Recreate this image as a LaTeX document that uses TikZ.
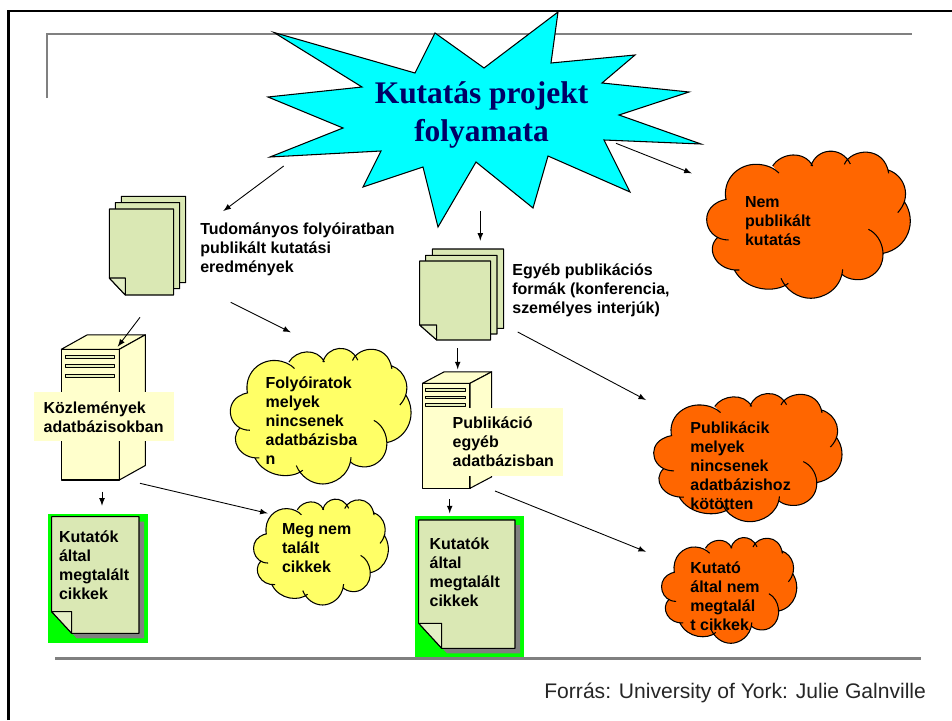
\documentclass[tikz,border=0pt]{standalone}
\usepackage{fontspec}
\setmainfont{Liberation Sans}
\newfontfamily\titlefont{Liberation Serif}
\usetikzlibrary{positioning}
\definecolor{burstcyan}{HTML}{00FFFF}
\definecolor{pagegreen}{HTML}{00FF00}
\definecolor{sheetgreen}{HTML}{DAE8B4}
\definecolor{foldgreen}{HTML}{E4EFC6}
\definecolor{srvyellow}{HTML}{FFFFCC}
\definecolor{cloudyellow}{HTML}{FFFF66}
\definecolor{cloudorange}{HTML}{FF6600}
\definecolor{titleblue}{HTML}{000066}
\definecolor{rulegray}{HTML}{808080}
\tikzset{
	label/.style={anchor=north west, inner sep=0pt, align=left, font=\bfseries\fontsize{9.1}{10.8}\selectfont},
	title/.style={inner sep=0pt, align=center, text=titleblue, font=\titlefont\bfseries\fontsize{17.9}{21.6}\selectfont},
	source/.style={anchor=base west, inner sep=0pt, text=black!85, font=\fontsize{12}{14}\selectfont},
	sheetline/.style={draw=black, line width=0.6pt, fill=sheetgreen, line join=round},
	rule/.style={draw=rulegray, line width=1.7pt},
}
% sheet with a folded corner: left, top, right, bottom, fold x, fold y
\newcommand{\sheet}[6]{
	\draw[sheetline] (#1,#2) -- (#3,#2) -- (#3,#4) -- (#5,#4) -- (#1,#6) -- cycle;
	\draw[sheetline, fill=foldgreen] (#1,#6) -- (#5,#6) -- (#5,#4) -- cycle;
}
% server box: left, top, right, bottom, depth x, depth y
\newcommand{\server}[6]{
	\draw[sheetline, fill=srvyellow] (#1,#2) rectangle (#3,#4);
	\draw[sheetline, fill=srvyellow] (#1,#2) -- ++(#5,-#6) -- ++(#3-#1,0) -- ++(-#5,#6) -- cycle;
	\draw[sheetline, fill=srvyellow] (#3,#2) -- ++(#5,-#6) -- ++(0,#4-#2) -- (#3,#4) -- cycle;
}
\newcommand{\lobes}[1]{
	(750,600) .. controls (738,535) and (790,490) .. (845,493) .. controls (872,494) and (895,505) .. (909,519) #1
	(890,498) .. controls (915,458) and (985,450) .. (1010,498) #1
	(1005,498) .. controls (1020,445) and (1095,435) .. (1123,492) #1
	(1105,493) .. controls (1125,445) and (1225,435) .. (1238,520) #1
	(1236,510) .. controls (1285,525) and (1310,590) .. (1265,638) #1
	(1285,605) .. controls (1325,665) and (1295,745) .. (1222,760) #1
	(1177,688) .. controls (1225,710) and (1240,790) .. (1190,825) .. controls (1160,848) and (1115,840) .. (1098,823) #1
	(1100,808) .. controls (1095,870) and (1040,895) .. (1005,895) .. controls (965,895) and (930,870) .. (915,835) #1
	(937,850) .. controls (900,880) and (810,875) .. (775,810) #1
	(790,810) .. controls (725,815) and (685,750) .. (725,712) #1
	(758,720) .. controls (690,720) and (670,640) .. (720,610) .. controls (730,603) and (742,600) .. (752,598)
}
% cloud: colour, left, top, width, height
\newcommand{\blob}[5]{
	\begin{scope}[shift={(#2,#3)}, xscale=#4/616, yscale=#5/445, shift={(-691,-450)}]
		\fill[#1] \lobes{--} -- cycle;
		\draw[black, line width=0.6pt] \lobes{};
	\end{scope}
}

\begin{document}
\begin{tikzpicture}[x=0.02cm, y=-0.02cm]
	\useasboundingbox (0,0) rectangle (952,720);
	
	% frame and rules
	\draw[black, line width=1.3pt] (8.5,720) -- (8.5,11) -- (952,11);
	\draw[rule] (47,98) -- (47,34) -- (911.7,34);
	\draw[rule] (55,658) -- (921,658);
	
	% burst
	\draw[black, line width=0.6pt, fill=burstcyan, line join=miter] (274,32.5) -- (415,73) -- (435,33) -- (484,68) -- (558,12) -- (551,63) -- (635,55) -- (602,83) -- (689,92) -- (619,115) -- (701,144) -- (604,140) -- (630,192) -- (548,156) -- (533,208) -- (476,162) -- (438,227) -- (423,167) -- (363,187) -- (381,151) -- (270,157) -- (343,128) -- (268,97) -- (362,87) -- cycle;
	\node (title) [title] at (481.5,115) {Kutatás projekt\\folyamata};
	
	% left column
	\sheet{121.3}{196.3}{185.7}{282.7}{137.3}{266}
	\sheet{115.3}{202.7}{179.7}{288.7}{131.3}{272}
	\sheet{109.3}{209}{173.7}{295}{125.3}{278}
	\node (journal) [label] at (200,222) {Tudományos folyóiratban\\publikált kutatási\\eredmények};
	
	\server{61.3}{349.3}{119.3}{480}{26}{14.5}
	\foreach \y in {357.3, 366.3, 376.3}
		\draw[sheetline, fill=sheetgreen!70!srvyellow] (65.7,\y-1.5) rectangle (114.3,\y+1.5);
	\fill[srvyellow] (34,392) rectangle (173.7,441);
	\node (articles) [label] at (43.3,401.3) {Közlemények\\adatbázisokban};
	
	\fill[pagegreen] (48,514) rectangle (148,642.7);
	\fill[rulegray] (56.7,521.7) -- (144,521.7) -- (144,638.3) -- (76.7,638.3) -- (56.7,616.7) -- cycle;
	\sheet{51.7}{516.7}{139}{633.3}{71.7}{611.7}
	\node (found1) [label] at (58.7,530) {Kutatók\\által\\megtalált\\cikkek};
	
	% middle column
	\blob{cloudyellow}{230}{347.3}{182.3}{136.7}
	\node (nojournal) [label] at (265.3,376.3) {Folyóiratok\\melyek\\nincsenek\\adatbázisba\\n};
	
	\blob{cloudyellow}{253.3}{498.3}{136}{106.7}
	\node (notfound1) [label] at (281.7,523.3) {Meg nem\\talált\\cikkek};
	
	% right column
	\sheet{432.3}{249}{503.7}{328.3}{449.3}{313.3}
	\sheet{425.7}{255.3}{497}{334}{442.7}{319}
	\sheet{419.7}{261}{490.7}{340}{436.7}{325}
	\node (other) [label] at (512,263.3) {Egyéb publikációs\\formák (konferencia,\\személyes interjúk)};
	
	\server{422.5}{383.3}{470}{488.3}{21.7}{11.5}
	\foreach \y in {390, 397.3, 405}
		\draw[sheetline, fill=sheetgreen!70!srvyellow] (425.7,\y-1.2) rectangle (465.7,\y+1.2);
	\fill[srvyellow] (446,408.3) rectangle (563.3,475.7);
	\node (otherdb) [label] at (452.3,416.6) {Publikáció\\egyéb\\adatbázisban};
	
	\fill[pagegreen] (415,516) rectangle (524,657.3);
	\fill[rulegray] (424,525) -- (520,525) -- (520,653.3) -- (447,653.3) -- (424,628.3) -- cycle;
	\sheet{418.7}{520}{515}{648.3}{441.7}{623.3}
	\node (found2) [label] at (429.3,537.3) {Kutatók\\által\\megtalált\\cikkek};
	
	\blob{cloudorange}{706.3}{150}{205.4}{148.3}
	\node (unpub) [label] at (744.7,196.3) {Nem\\publikált\\kutatás};
	
	\blob{cloudorange}{653.3}{392.5}{190}{129.2}
	\node (nodb) [label] at (690,421.3) {Publikácik\\melyek\\nincsenek\\adatbázishoz\\kötötten};
	
	\blob{cloudorange}{661.3}{536.7}{136.4}{106.6}
	\node (notfound2) [label] at (690,561.6) {Kutató\\által nem\\megtalál\\t cikkek};
	
	\node (forras) [source] at (544,698.3) {Forrás: University of York: Julie Galnville};
	
	% free arrow ends
	\coordinate (burstA) at (283.7,166);
	\coordinate (stackA) at (223.3,211);
	\coordinate (burstB) at (480.3,211);
	\coordinate (stackB) at (480.3,240.7);
	\coordinate (burstC) at (616,143.3);
	\coordinate (cloudC) at (691.7,173.3);
	\coordinate (stackD) at (230.7,302.3);
	\coordinate (cloudD) at (290.7,332.3);
	\coordinate (stackE) at (140,317.3);
	\coordinate (srvE) at (117.7,346.7);
	\coordinate (stackF) at (517.7,332);
	\coordinate (cloudF) at (646,400);
	\coordinate (stackG) at (457.7,348);
	\coordinate (srvG) at (457.7,369.3);
	\coordinate (srvH) at (102,491.7);
	\coordinate (docH) at (102,505.7);
	\coordinate (srvI) at (140,483.3);
	\coordinate (cloudI) at (267.7,513.3);
	\coordinate (srvJ) at (449.7,499.3);
	\coordinate (docJ) at (449.7,513.3);
	\coordinate (srvK) at (495,491);
	\coordinate (cloudK) at (646,551.7);
	
	\begin{scope}[black, line width=0.5pt, ->, >=latex]
		\draw (burstA) -- (stackA);
		\draw (burstB) -- (stackB);
		\draw (burstC) -- (cloudC);
		\draw (stackD) -- (cloudD);
		\draw (stackE) -- (srvE);
		\draw (stackF) -- (cloudF);
		\draw (stackG) -- (srvG);
		\draw (srvH) -- (docH);
		\draw (srvI) -- (cloudI);
		\draw (srvJ) -- (docJ);
		\draw (srvK) -- (cloudK);
	\end{scope}
	
\end{tikzpicture}
\end{document}
